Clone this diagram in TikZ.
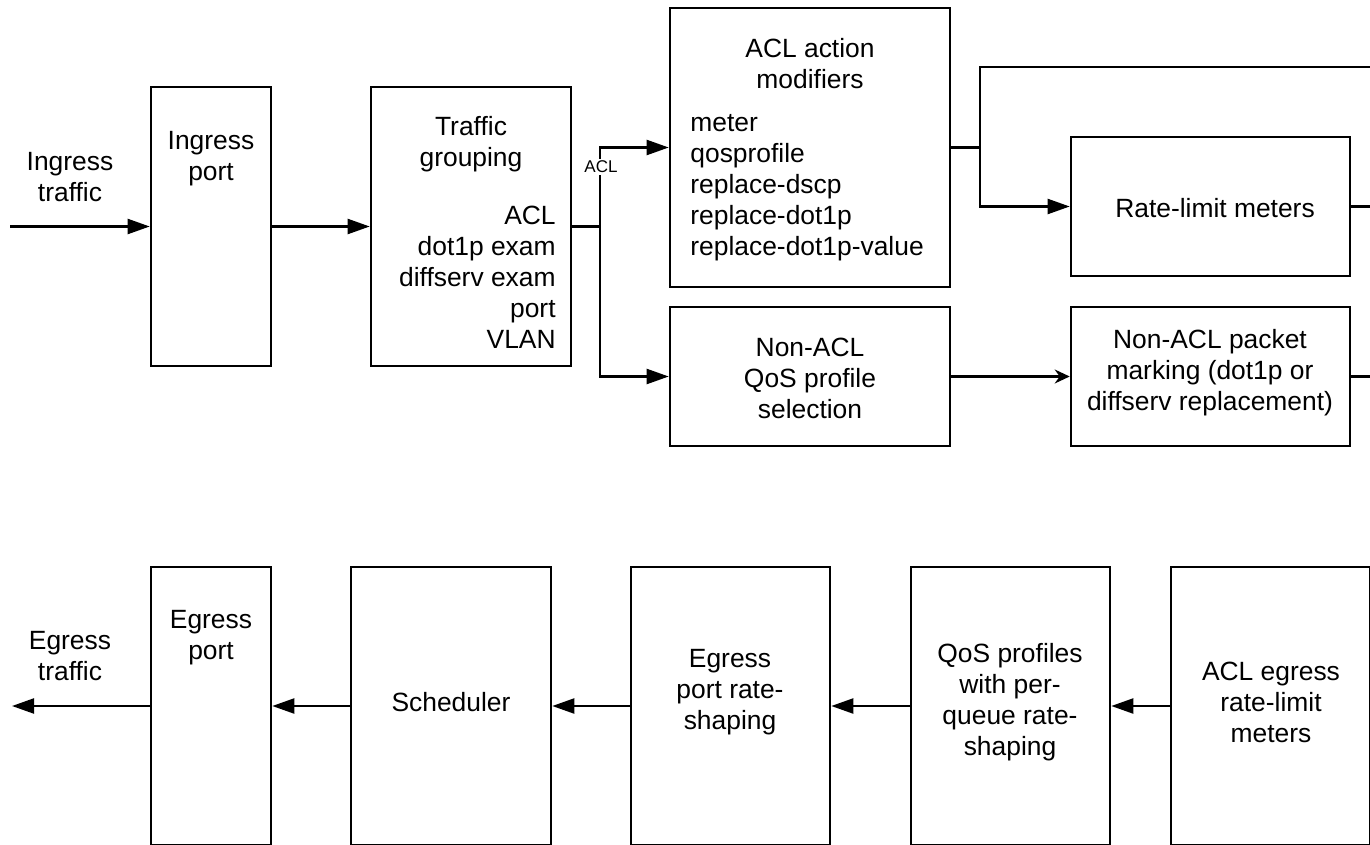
\documentclass[tikz,border=0pt]{standalone}
\usepackage{fontspec}
\setmainfont{Liberation Sans}
\usetikzlibrary{arrows.meta}
\begin{document}
\begin{tikzpicture}[x=0.5pt,y=-0.5pt,
  box/.style={draw, line width=1.3pt, inner sep=0pt},
  txt/.style={font=\fontsize{13.2}{15.5}\selectfont, align=center, inner sep=0pt},
  small/.style={font=\fontsize{8.5}{9}\selectfont, inner sep=1pt},
  conn/.style={line width=1.1pt},
  arr/.style={line width=1.1pt, -{Triangle[length=11pt,width=7.5pt]}},
  arrs/.style={line width=1.1pt, -{Stealth[length=7.5pt,width=7pt,inset=2.5pt]}}]
\useasboundingbox (0,0) rectangle (1370,845);
% top row boxes
\node[box, minimum width=60pt, minimum height=139.5pt] (ip) at (211,226.5) {};
\node[box, minimum width=100pt, minimum height=139.5pt] (tg) at (471,226.5) {};
\node[box, minimum width=140pt, minimum height=139.5pt] (acl) at (810,147.5) {};
\node[box, minimum width=139.5pt, minimum height=69.5pt] (rl) at (1210.5,206.5) {};
\node[box, minimum width=140pt, minimum height=69.5pt] (nq) at (810,376.5) {};
\node[box, minimum width=139.5pt, minimum height=69.5pt] (nm) at (1210.5,376.5) {};
% bottom row boxes
\node[box, minimum width=60pt, minimum height=139pt] (ep) at (211,706) {};
\node[box, minimum width=100pt, minimum height=139pt] (sch) at (451,706) {};
\node[box, minimum width=99.5pt, minimum height=139pt] (eprs) at (730.5,706) {};
\node[box, minimum width=99.5pt, minimum height=139pt] (qos) at (1010.5,706) {};
\node[box, minimum width=99.5pt, minimum height=139pt] (aclm) at (1270.5,706) {};
% texts
\node[txt] (tin) at (70,177) {Ingress\\traffic};
\node[txt] (tip) at (211,159) {Ingress\\port};
\node[txt] (ttg) at (471,144) {Traffic\\grouping};
\node[txt, align=right, anchor=east] (ttgl) at (556,277.5) {ACL\\dot1p exam\\diffserv exam\\port\\VLAN};
\node[txt] (tacl) at (810,64) {ACL action\\modifiers};
\node[txt, align=left, anchor=west] (tacll) at (690,188) {meter\\qosprofile\\replace-dscp\\replace-dot1p\\replace-dot1p-value};
\node[txt] (trl) at (1215,208) {Rate-limit meters};
\node[txt] (tnq) at (810,378) {Non-ACL\\QoS profile\\selection};
\node[txt] (tnm) at (1210,373) {Non-ACL packet\\marking (dot1p or\\diffserv replacement)};
\node[txt] (tout) at (70,656) {Egress\\traffic};
\node[txt] (tep) at (211,638) {Egress\\port};
\node[txt] (tsch) at (451,702) {Scheduler};
\node[txt] (teprs) at (730,692) {Egress\\port rate-\\shaping};
\node[txt] (tqos) at (1010,702) {QoS profiles\\with per-\\queue rate-\\shaping};
\node[txt] (taclm) at (1271,702) {ACL egress\\rate-limit\\meters};
\node[small] (aclab) at (601,167) {ACL};
% coordinates
\coordinate (in) at (10,226.5);
\coordinate (j1) at (600,226.5);
\coordinate (j2) at (980,147.5);
\coordinate (topr) at (1370,67);
\coordinate (rlr) at (1370,206.5);
\coordinate (nmr) at (1370,376.5);
\coordinate (out) at (12,706);
% top connectors
\draw[arr] (in) -- (ip.west);
\draw[arr] (ip.east) -- (tg.west);
\draw[conn] (tg.east) -- (j1);
\draw[conn] (j1) -- (j1 |- aclab.south);
\draw[arr] (j1 |- aclab.north) |- (acl.west);
\draw[arr] (j1) |- (nq.west);
\draw[conn] (acl.east) -- (j2);
\draw[conn] (j2) |- (topr);
\draw[arr] (j2) |- (rl.west);
\draw[conn] (rl.east) -- (rlr);
\draw[arrs] (nq.east) -- (nm.west);
\draw[conn] (nm.east) -- (nmr);
% bottom connectors
\draw[arr] (aclm.west) -- (qos.east);
\draw[arr] (qos.west) -- (eprs.east);
\draw[arr] (eprs.west) -- (sch.east);
\draw[arr] (sch.west) -- (ep.east);
\draw[arr] (ep.west) -- (out);
\end{tikzpicture}
\end{document}
